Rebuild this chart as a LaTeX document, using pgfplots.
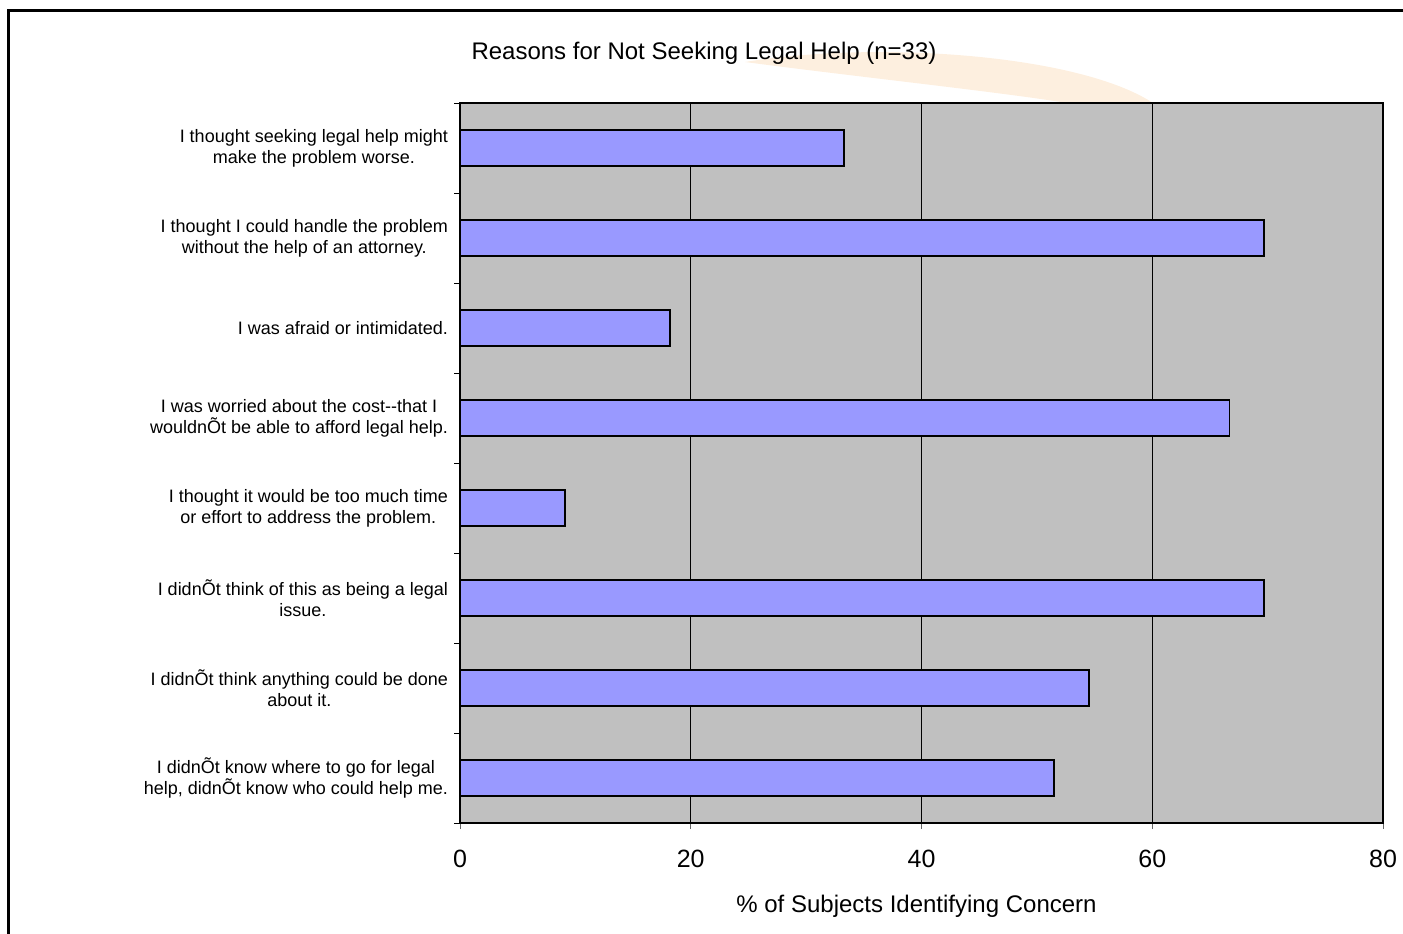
\documentclass[border=0pt]{standalone}
\usepackage{pgfplots}
\pgfplotsset{compat=1.18}
\usepackage{fontspec}
\setmainfont{Liberation Sans}
\definecolor{barcol}{HTML}{9999FF}
\definecolor{bgcol}{HTML}{C0C0C0}
\definecolor{wm}{HTML}{FDEFDF}
\begin{document}
\begin{tikzpicture}
\useasboundingbox (0,0) rectangle (701.5pt,466.5pt);
\begin{scope}[x=0.5pt,y=-0.5pt,shift={(0pt,466.5pt)}]
\fill[wm] (745,62) .. controls (880,40) and (1080,55) .. (1153,103) -- (1067,103) .. controls (1000,92) and (850,76) .. (745,62) -- cycle;
\draw[line width=1.5pt] (8,960) -- (8,11) -- (1420,11);
\end{scope}
\node[anchor=base, font=\fontsize{12}{14}\selectfont] at (352pt,436.5pt) {Reasons for Not Seeking Legal Help (n=33)};
\begin{axis}[
  at={(230pt,55pt)}, anchor=south west,
  scale only axis, width=461.5pt, height=360pt,
  xmin=0, xmax=80, ymin=0.5, ymax=8.5,
  xtick={0,20,40,60,80},
  ytick={0.5,1.5,...,8.5}, yticklabels={},
  xtick pos=bottom, ytick pos=left,
  extra y ticks={1,2,3,4,5,6,7,8},
  extra y tick labels={
    {I didnÕt know where to go for legal\\help, didnÕt know who could help me.},
    {I didnÕt think anything could be done\\about it.},
    {I didnÕt think of this as being a legal\\issue.},
    {I thought it would be too much time\\or effort to address the problem.},
    {I was worried about the cost{-}{-}that I\\wouldnÕt be able to afford legal help.},
    {I was afraid or intimidated.},
    {I thought I could handle the problem\\without the help of an attorney.},
    {I thought seeking legal help might\\make the problem worse.}},
  extra y tick style={major tick length=0pt, tick label style={font=\fontsize{9}{10.5}\selectfont, align=center, xshift=-2.5pt}},
  tick align=outside, major tick length=3pt,
  tick style={black, line width=0.5pt},
  x tick style={gray!80!black},
  xticklabel style={font=\fontsize{12.5}{15}\selectfont, yshift=-7pt},
  /pgf/number format/assume math mode=true,
  axis background/.style={fill=bgcol},
  xmajorgrids, major grid style={black, line width=0.5pt},
  axis line style={black, line width=1pt},
  xlabel={\% of Subjects Identifying Concern},
  xlabel style={font=\fontsize{12}{14}\selectfont, yshift=-7pt, xshift=-2.5pt},
  xbar, bar width=0.4,
]
\addplot[fill=barcol, draw=black, line width=0.75pt] coordinates {
  (51.5,1) (54.5,2) (69.7,3) (9.1,4) (66.7,5) (18.2,6) (69.7,7) (33.3,8)
};
\end{axis}
\end{tikzpicture}
\end{document}
